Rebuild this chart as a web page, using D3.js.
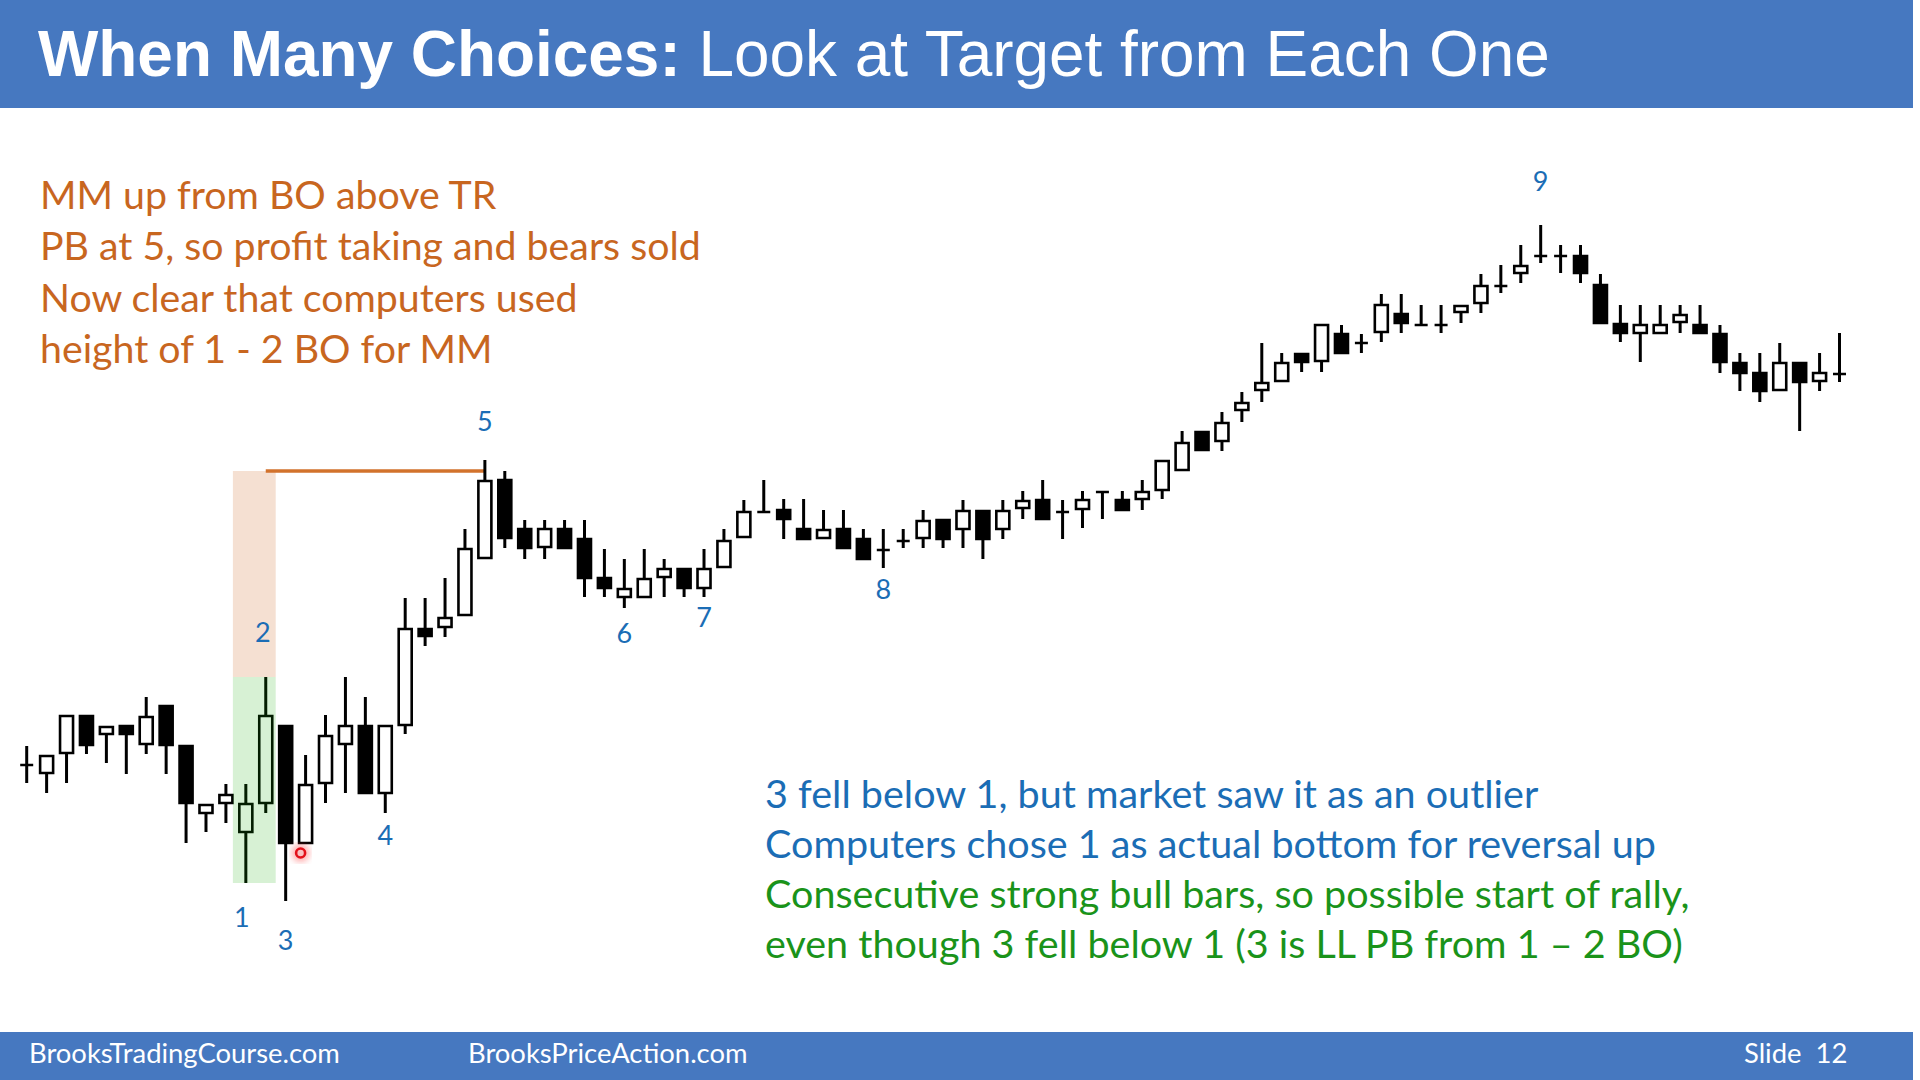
<!DOCTYPE html>
<html>
<head>
<meta charset="utf-8">
<script src="https://cdn.jsdelivr.net/npm/d3@7"></script>
<style>
  body { margin: 0; background: #fff; }
  svg { display: block; }
</style>
</head>
<body>
<script>
// bars, oldest first (price units are arbitrary)
const opens  = [23.5,22.7,24.7,28.4,26.6,27.4,25.6,29.4,25.4,18.7,19.7,16.8,19.7,27.4,15.7,21.7,25.6,27.4,20.7,27.5,
                37.1,37.3,38.5,44.2,52.0,47.1,45.3,47.1,46.1,42.2,40.3,40.3,42.3,43.1,41.2,43.3,46.3,48.8,49.0,47.1,
                46.2,47.1,46.1,45.0,45.9,46.2,48.0,47.1,48.9,47.1,49.2,50.0,48.8,49.1,50.8,50.0,50.1,51.0,53.0,56.8,
                55.9,59.0,61.0,61.9,64.6,63.9,66.6,65.7,66.8,68.6,67.5,67.5,68.8,69.7,71.4,72.7,74.4,74.4,74.4,71.5,
                67.6,66.7,66.7,67.8,67.5,66.6,63.7,62.7,61.0,63.7,61.9,62.6];
const highs  = [25.4,24.4,28.4,28.4,27.3,27.4,30.3,29.4,25.4,19.5,21.6,21.6,32.3,27.4,24.5,28.5,32.3,30.3,27.4,40.2,
                40.2,42.2,47.1,54.0,52.9,48.0,48.0,48.0,48.0,45.1,44.1,45.1,44.1,43.1,45.1,47.1,50.0,52.0,50.1,50.1,
                49.0,49.0,47.1,47.1,47.1,49.0,48.0,50.0,48.9,50.0,50.9,52.0,50.0,50.9,50.8,50.9,52.0,53.9,56.9,56.8,
                58.8,60.8,65.7,64.7,64.6,67.5,67.5,66.6,70.6,70.6,69.5,69.5,69.4,72.6,73.5,75.5,77.5,75.5,75.5,72.6,
                69.5,69.5,69.5,69.5,69.5,67.5,64.7,64.7,65.7,63.7,64.7,66.7];
const lows   = [21.7,20.7,21.7,24.6,23.7,22.6,24.6,22.6,15.7,16.8,17.7,11.7,18.7, 9.9,15.7,19.7,20.7,20.7,18.7,26.6,
                35.4,36.3,38.5,44.2,45.2,44.1,44.1,45.2,40.3,40.3,39.2,40.3,40.3,40.3,40.3,43.3,46.3,48.8,46.1,46.1,
                46.2,45.2,44.1,43.2,45.2,45.2,45.2,45.2,44.1,46.1,48.1,48.1,46.1,47.2,48.1,49.0,49.0,50.1,53.0,55.0,
                54.9,57.8,59.8,61.9,62.8,62.8,64.7,64.7,65.8,66.7,67.5,66.7,67.7,68.7,70.7,71.7,73.7,72.7,71.7,67.7,
                65.8,63.8,66.7,66.7,66.7,62.7,60.9,59.8,61.0,56.9,60.9,61.8];
const closes = [23.5,24.4,28.4,25.5,27.3,26.6,28.3,25.5,19.7,19.5,20.5,19.6,28.4,15.7,21.5,26.4,27.4,20.7,27.4,37.1,
                36.4,38.2,45.1,51.9,46.2,45.2,47.1,45.2,42.2,41.2,41.1,42.1,43.1,41.2,43.1,45.9,48.8,48.8,48.1,46.1,
                47.0,45.2,44.1,45.0,45.9,47.9,46.1,48.9,46.1,48.9,49.9,48.1,48.8,50.0,50.8,49.0,50.8,53.9,55.7,55.0,
                57.7,59.7,61.7,63.7,63.8,67.5,64.7,65.7,69.5,67.7,67.5,67.5,69.4,71.4,71.4,73.4,74.4,74.4,72.7,67.7,
                66.7,67.5,67.5,68.5,66.7,63.8,62.7,60.9,63.7,61.8,62.7,62.6];

// swing point numbers: text, bar position, price level of the baseline
const labelText  = ["1", "2", "3", "4", "5", "6", "7", "8", "9"];
const labelBar   = [10.8, 11.85, 13, 18, 23, 30, 34, 43, 76];
const labelPrice = [7.3, 35.8, 5.0, 15.5, 56.9, 35.7, 37.3, 40.1, 80.9];

// the 1 - 2 breakout and its measured move
const bar1 = 11, bar2 = 12, bar5 = 23;
const mmTarget = highs[bar2] + (highs[bar2] - lows[bar1]);
const redDot = [13.75, 14.7];

const titleBold = "When Many Choices:";
const titleRest = " Look at Target from Each One";
const orangeLines = ["MM up from BO above TR", "PB at 5, so profit taking and bears sold",
                     "Now clear that computers used", "height of 1 - 2 BO for MM"];
const noteLines = ["3 fell below 1, but market saw it as an outlier",
                   "Computers chose 1 as actual bottom for reversal up",
                   "Consecutive strong bull bars, so possible start of rally,",
                   "even though 3 fell below 1 (3 is LL PB from 1 \u2013 2 BO)"];
const noteColors = ["#1b6db5", "#1b6db5", "#1a931a", "#1a931a"];
const footer = ["BrooksTradingCourse.com", "BrooksPriceAction.com", "Slide  12"];

const w = 1920;
const h = 1080;
const blue = "#4678c0";
const bodyFont = "Lato, 'Open Sans', sans-serif";

const svg = d3.select("body")
              .append("svg")
              .attr("width", w)
              .attr("height", h)

// shrink/grow a text element so it spans a given width
let fit = (sel, target) => {
  const len = sel.node().getComputedTextLength();
  const fs = parseFloat(sel.attr("font-size"));
  return fs * target / len;
}

// header
svg.append("rect").attr("x", 0).attr("y", 0).attr("width", 1913).attr("height", 108).attr("fill", blue)
const title = svg.append("text")
  .attr("x", 38).attr("y", 76)
  .attr("font-family", "'Liberation Sans', Arial, sans-serif")
  .attr("font-size", 64)
  .attr("fill", "#fff")
title.append("tspan").attr("font-weight", "bold").text(titleBold)
title.append("tspan").text(titleRest)
title.attr("font-size", fit(title, 1512))

// footer
svg.append("rect").attr("x", 0).attr("y", 1032).attr("width", 1913).attr("height", 48).attr("fill", blue)
const footX = [29, 468, 1744];
const foot = svg.selectAll(".foot")
  .data(footer)
  .enter()
  .append("text")
  .attr("class", "foot")
  .attr("x", (d, i) => footX[i])
  .attr("y", 1063)
  .attr("font-family", bodyFont)
  .attr("font-size", 24)
  .attr("fill", "#fff")
  .style("white-space", "pre")
  .text(d => d)
foot.attr("font-size", fit(d3.select(foot.nodes()[0]), 311))

// scales
const xScale = d3.scaleLinear()
                .domain([0, opens.length - 1])
                .range([26.7, 1839.5])
const yScale = d3.scaleLinear()
                .domain([0, 100])
                .range([1000, 0])

const bodyW = 13;

// measured move boxes (peach = projected height, green = 1 - 2 breakout)
const boxX0 = xScale(bar1 - 0.65);
const boxX1 = xScale(bar2 + 0.5);
svg.append("rect")
  .attr("x", boxX0)
  .attr("y", yScale(mmTarget))
  .attr("width", boxX1 - boxX0)
  .attr("height", yScale(highs[bar2]) - yScale(mmTarget))
  .attr("fill", "#f5e0d2")

svg.append("line")
  .attr("x1", xScale(bar2)).attr("x2", xScale(bar5))
  .attr("y1", yScale(mmTarget)).attr("y2", yScale(mmTarget))
  .attr("stroke", "#d2722c")
  .attr("stroke-width", 3.5)

// candles
const idx = d3.range(opens.length);

svg.selectAll(".wick")
  .data(idx)
  .enter()
  .append("line")
  .attr("class", "wick")
  .attr("x1", i => xScale(i))
  .attr("x2", i => xScale(i))
  .attr("y1", i => yScale(highs[i]))
  .attr("y2", i => yScale(lows[i]))
  .attr("stroke", "#000")
  .attr("stroke-width", 3)

svg.selectAll(".body")
  .data(idx)
  .enter()
  .append("path")
  .attr("class", "body")
  .attr("d", i => {
    const x0 = xScale(i) - bodyW / 2;
    const yTop = yScale(Math.max(opens[i], closes[i]));
    const yBot = yScale(Math.min(opens[i], closes[i]));
    return `M${x0},${yTop}H${x0 + bodyW}V${yBot}H${x0}Z`
  })
  .attr("fill", i => closes[i] >= opens[i] ? "#fff" : "#000")
  .attr("stroke", "#000")
  .attr("stroke-width", 2.6)

svg.append("rect")
  .attr("x", boxX0)
  .attr("y", yScale(highs[bar2]))
  .attr("width", boxX1 - boxX0)
  .attr("height", yScale(lows[bar1]) - yScale(highs[bar2]))
  .attr("fill", "rgb(20,170,0)")
  .attr("fill-opacity", 0.17)

// red marker
const defs = svg.append("defs")
defs.append("filter").attr("id", "glow")
  .append("feGaussianBlur").attr("stdDeviation", 3)
svg.append("circle")
  .attr("cx", xScale(redDot[0])).attr("cy", yScale(redDot[1]))
  .attr("r", 9).attr("fill", "#ff3030").attr("opacity", 0.4)
  .attr("filter", "url(#glow)")
svg.append("circle")
  .attr("cx", xScale(redDot[0])).attr("cy", yScale(redDot[1]))
  .attr("r", 4.5).attr("fill", "#f9c0c0")
  .attr("stroke", "#e3101a").attr("stroke-width", 2.6)

// swing numbers
svg.selectAll(".lbl")
  .data(labelText)
  .enter()
  .append("text")
  .attr("class", "lbl")
  .attr("x", (d, i) => xScale(labelBar[i]))
  .attr("y", (d, i) => yScale(labelPrice[i]))
  .attr("text-anchor", "middle")
  .attr("font-family", bodyFont)
  .attr("font-size", 27)
  .attr("fill", "#1b6db5")
  .text(d => d)

// comment blocks
const orange = svg.selectAll(".orange")
  .data(orangeLines)
  .enter()
  .append("text")
  .attr("class", "orange")
  .attr("x", 40)
  .attr("y", (d, i) => 209 + i * 51.3)
  .attr("font-family", bodyFont)
  .attr("font-size", 34)
  .attr("fill", "#c8661f")
  .text(d => d)
orange.attr("font-size", fit(d3.select(orange.nodes()[1]), 661))

const notes = svg.selectAll(".note")
  .data(noteLines)
  .enter()
  .append("text")
  .attr("class", "note")
  .attr("x", 765)
  .attr("y", (d, i) => 808 + i * 50)
  .attr("font-family", bodyFont)
  .attr("font-size", 34)
  .attr("fill", (d, i) => noteColors[i])
  .text(d => d)
notes.attr("font-size", fit(d3.select(notes.nodes()[1]), 891))
</script>
</body>
</html>
